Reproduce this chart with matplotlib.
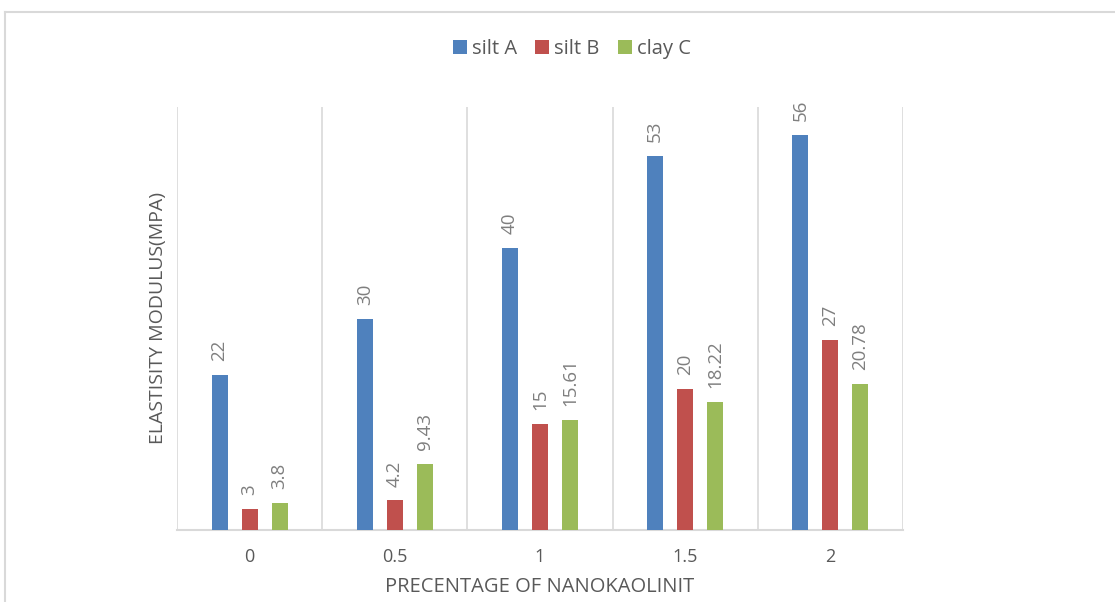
import numpy as np
import matplotlib.pyplot as plt
from matplotlib.lines import Line2D

categories = ["0", "0.5", "1", "1.5", "2"]
silt_a = [22, 30, 40, 53, 56]
silt_b = [3, 4.2, 15, 20, 27]
clay_c = [3.8, 9.43, 15.61, 18.22, 20.78]
labels_a = ["22", "30", "40", "53", "56"]
labels_b = ["3", "4.2", "15", "20", "27"]
labels_c = ["3.8", "9.43", "15.61", "18.22", "20.78"]

plt.rcParams['font.family'] = ['Open Sans', 'DejaVu Sans']
txt = '#595959'

fig = plt.figure(figsize=(11.15, 6.02), dpi=100)
ax = fig.add_axes([177 / 1115, 72 / 602, 726 / 1115, 423 / 602])

x = np.arange(len(categories))
w = 0.11
step = 0.207
series = [(silt_a, labels_a, '#4f81bd', 'silt A'),
          (silt_b, labels_b, '#c0504d', 'silt B'),
          (clay_c, labels_c, '#9bbb59', 'clay C')]
for i, (vals, labs, col, name) in enumerate(series):
    xs = x + (i - 1) * step
    ax.bar(xs, vals, width=w, color=col, label=name, zorder=3)
    for xi, v, lab in zip(xs, vals, labs):
        ax.annotate(lab, (xi, v), xytext=(0, 10), textcoords='offset points',
                    rotation=90, ha='center', va='bottom', fontsize=13.5, color='#7f7f7f')

ax.set_xlim(-0.5, len(categories) - 0.5)
ax.set_ylim(0, 60)
ax.set_yticks([])
ax.set_xticks(x)
ax.set_xticklabels(categories, fontsize=13, color=txt)
ax.set_xticks(np.arange(len(categories) + 1) - 0.5, minor=True)
ax.tick_params(axis='x', which='both', length=0, pad=13)
ax.grid(True, axis='x', which='minor', color='#d9d9d9', linewidth=1.2, zorder=0)
for s in ['top', 'right', 'left']:
    ax.spines[s].set_visible(False)
ax.spines['bottom'].set_color('#d9d9d9')
ax.spines['bottom'].set_linewidth(1.5)

ax.set_xlabel('PRECENTAGE OF NANOKAOLINIT', fontsize=14.5, color=txt, labelpad=8)
ax.set_ylabel('ELASTISITY MODULUS(MPA)', fontsize=14, color=txt, labelpad=7)

fig.legend(loc='center', bbox_to_anchor=(572 / 1115, 1 - 49 / 602), ncol=3,
           frameon=False, fontsize=14.5, handlelength=0.7, handleheight=0.7,
           handletextpad=0.25, columnspacing=0.9, labelcolor=txt)

# chart border
fig.add_artist(Line2D([5 / 1115, 5 / 1115], [0, 1 - 12 / 602], color='#d9d9d9', lw=1.5))
fig.add_artist(Line2D([5 / 1115, 1], [1 - 12 / 602, 1 - 12 / 602], color='#d9d9d9', lw=1.5))

fig.savefig('out.png', dpi=100)
